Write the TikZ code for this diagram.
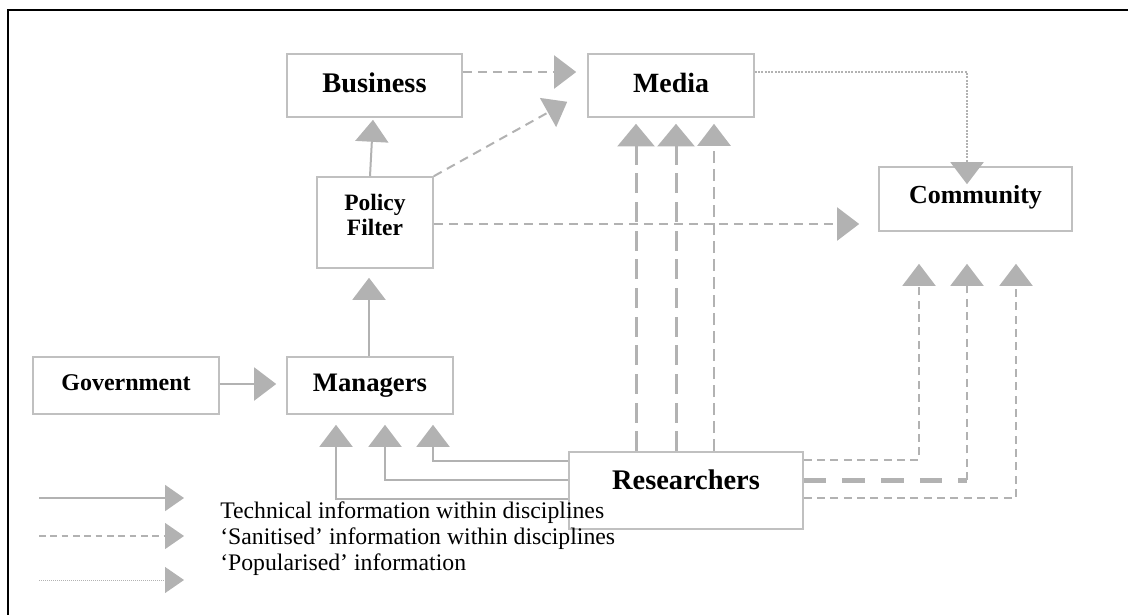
\documentclass[tikz,border=0pt]{standalone}
\usepackage{fontspec}
\setmainfont{Liberation Serif}
\usetikzlibrary{arrows.meta,calc}

\definecolor{linegray}{RGB}{178,178,178}
\definecolor{boxgray}{RGB}{192,192,192}

\tikzset{
  box/.style={draw=boxgray, line width=1.2pt, inner sep=0pt, align=center},
  bigtip/.style={-{Triangle[length=16.5pt,width=24.75pt]}},
  widetip/.style={-{Triangle[length=17pt,width=27.75pt]}},
  keytip/.style={-{Triangle[length=14.25pt,width=19.5pt]}},
  tech/.style={draw=linegray, line width=1.5pt, bigtip},
  sani/.style={draw=linegray, line width=1.5pt, dash pattern=on 6.75pt off 4.5pt, bigtip},
  saniheavy/.style={draw=linegray, line width=2.25pt, dash pattern=on 15pt off 6.5pt, widetip},
  sanibold/.style={draw=linegray, line width=3.75pt, dash pattern=on 17pt off 12pt},
  popu/.style={draw=linegray, line width=1.5pt, dash pattern=on 1.5pt off 1pt, bigtip},
  keytext/.style={anchor=west, inner sep=0pt, font=\fontsize{17.8}{21}\selectfont}
}

\begin{document}
\begin{tikzpicture}[x=0.75pt,y=-0.75pt]
\useasboundingbox (0,0) rectangle (1128,614);
% frame
\draw[black, line width=1.5pt] (7.5,630) |- (1140,10);

% boxes
\node[box, minimum width=131.25pt, text height=28.8pt, text depth=18.45pt,
      font=\bfseries\fontsize{21.3}{25}\selectfont] (business) at (374.5,85.5) {Business};
\node[box, minimum width=124.5pt, text height=28.8pt, text depth=18.45pt,
      font=\bfseries\fontsize{20.9}{25}\selectfont] (media) at (671,85.5) {Media};
\node[box, minimum width=87pt, text height=43.5pt, text depth=24.75pt,
      font=\bfseries\fontsize{17.6}{18.75}\selectfont] (pf) at (375,222.5) {Policy\\Filter};
\node[box, minimum width=144.75pt, text height=27.45pt, text depth=20.55pt,
      font=\bfseries\fontsize{19.5}{23}\selectfont] (community) at (975.5,199) {Community};
\node[box, minimum width=139.5pt, text height=24.75pt, text depth=18pt,
      font=\bfseries\fontsize{18}{21}\selectfont] (gov) at (126,385.5) {Government};
\node[box, minimum width=124.5pt, text height=26.1pt, text depth=16.65pt,
      font=\bfseries\fontsize{20}{24}\selectfont] (mgr) at (370,385.5) {Managers};
\node[box, minimum width=175.5pt, text height=27.75pt, text depth=30pt,
      font=\bfseries\fontsize{21.3}{25}\selectfont] (res) at (686,490.5) {Researchers};

% top row
\draw[sani] ($(business.east)+(0,-13.5)$) -- ($(media.west)+(-11,-13.5)$);
\draw[sani] (pf.north east) -- ($(media.south west)+(-20,-16)$);
\draw[tech] ($(pf.north)+(-5,0)$) -- ($(business.south)+(-1.5,2)$);
\draw[sani] ($(pf.east)+(0,1.5)$) -- ($(pf.east -| community.west)+(-19,1.5)$);
\draw[popu] ($(media.east)+(0,-13.5)$) -| ($(community.north)+(-8.5,18)$);

% managers and government
\draw[tech] ($(mgr.north)+(-1,0)$) -- ($(pf.south)+(-6,9)$);
\draw[tech] ($(gov.east)+(0,-1.5)$) -- ($(gov.east -| mgr.west)+(-10,-1.5)$);

% researchers -> managers
\foreach \dy/\dx in {-29.5/63, -10.5/15, 8.5/-34}
  \draw[tech] ($(res.west)+(0,\dy)$) -| ($(mgr.south)+(\dx,10)$);

% researchers -> media
\foreach \dx [count=\i] in {-35,5,43}
  \coordinate (mtip\i) at ($(media.south)+(\dx,6)$);
\draw[saniheavy] (mtip1 |- res.north) -- (mtip1);
\draw[saniheavy] (mtip2 |- res.north) -- (mtip2);
\draw[sani, dash pattern=on 9pt off 4.5pt, line width=1.9pt] (mtip3 |- res.north) -- (mtip3);

% researchers -> community
\foreach \dx [count=\i] in {-56.5,-8.5,40.5}
  \coordinate (ctip\i) at ($(community.south)+(\dx,32)$);
\coordinate (rline2) at ($(res.east)+(0,-10.5)$);
\draw[sani, dash pattern=on 6pt off 4pt] ($(res.east)+(0,-30.5)$) -| (ctip1);
\draw[sanibold] (rline2) -- (rline2 -| ctip2);
\draw[sani, dash pattern=on 6pt off 4pt] (rline2 -| ctip2) -- (ctip2);
\draw[sani, dash pattern=on 6pt off 4pt] ($(res.east)+(0,7.5)$) -| (ctip3);

% key
\coordinate (keyA) at (39,498);  \coordinate (keyAtip) at (184,498);
\coordinate (keyB) at (39,536);  \coordinate (keyBtip) at (184,536);
\coordinate (keyC) at (39,580);  \coordinate (keyCtip) at (184,580);
\draw[draw=linegray, line width=1.5pt, keytip] (keyA) -- (keyAtip);
\draw[draw=linegray, line width=1pt, dash pattern=on 5pt off 3.5pt, keytip] (keyB) -- (keyBtip);
\draw[draw=linegray, line width=0.75pt, dash pattern=on 0.75pt off 0.75pt, keytip] (keyC) -- (keyCtip);
\node[keytext] (keytech) at (220,513) {Technical information within disciplines};
\node[keytext] (keysani) at (220,539) {`Sanitised' information within disciplines};
\node[keytext] (keypopu) at (220,565) {`Popularised' information};
\end{tikzpicture}
\end{document}
